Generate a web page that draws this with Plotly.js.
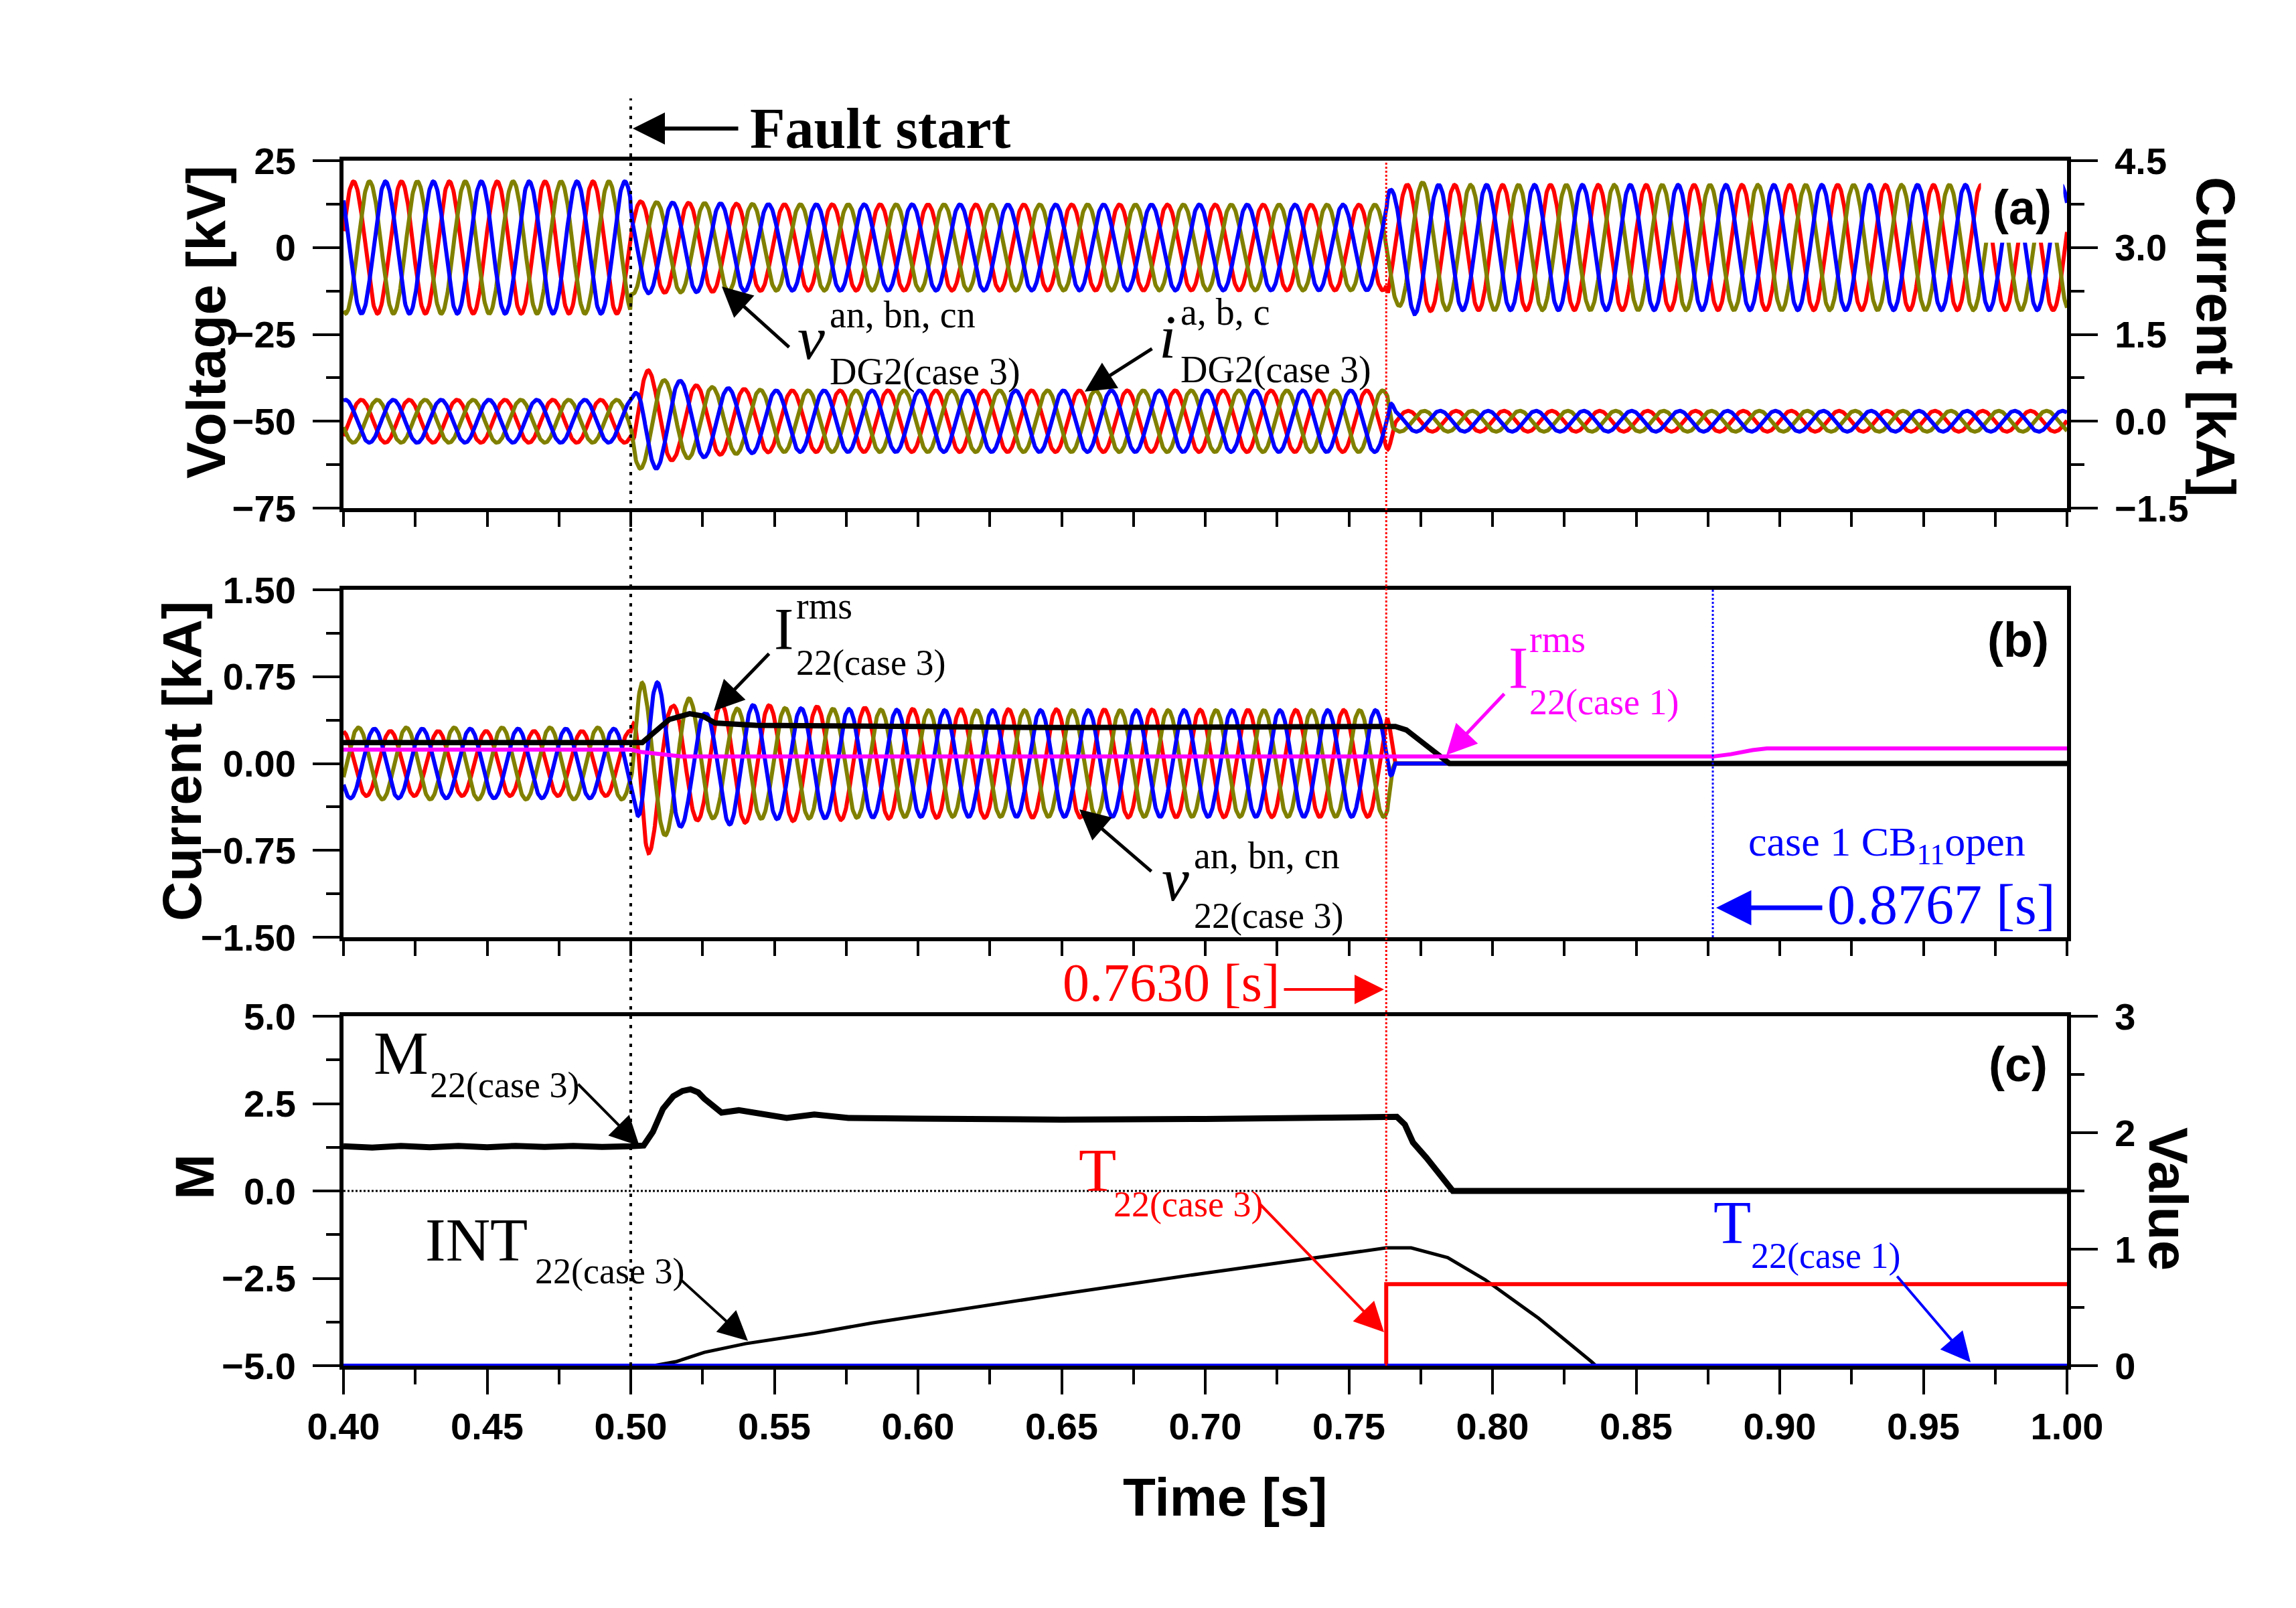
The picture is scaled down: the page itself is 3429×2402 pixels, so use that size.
<!DOCTYPE html>
<html><head><meta charset="utf-8">
<script src="https://cdn.plot.ly/plotly-3.0.1.min.js"></script>
<style>html,body{margin:0;padding:0;background:#fff;}#chart{width:3429px;height:2402px;}</style>
</head><body><div id="chart"></div>
<script>
// ---------------- data ----------------
const tStart = 0.40, tEnd = 1.00, tStep = 0.0002;
const freqHz = 60;                       // cycle spacing read from the waves
const phaseLagS = [0, 1/180, 2/180];     // phases a, b, c (120 deg apart)
const phaseColors = ['#FF0000', '#808000', '#0000FF'];

// (a) DG2 phase voltages [kV]: envelope knots
const vDgPeakTime = 0.4035;
const vDgEnvT  = [0.40, 0.49995, 0.50005, 0.51, 0.55, 0.763, 0.7636, 0.767, 0.7727, 0.78, 1.00];
const vDgEnvKV = [19.0, 19.0,    13.4,    13.0, 12.4, 12.3,  16.6,   16.6,  19.2,   18.0, 18.0];

// (a) DG2 phase currents [kA]: envelope knots per phase
const iDgPeakTime = 0.4062;
const iDgEnvT = [
  [0.40, 0.50, 0.5012, 0.5061, 0.515, 0.53, 0.55, 0.7634, 0.766, 1.00],
  [0.40, 0.50, 0.5012, 0.5033, 0.5115, 0.52, 0.53, 0.55, 0.7634, 0.766, 1.00],
  [0.40, 0.50, 0.5048, 0.5088, 0.517, 0.53, 0.55, 0.7634, 0.766, 1.00]
];
const iDgEnvKA = [
  [0.37, 0.37, 0.88, 0.88, 0.66, 0.58, 0.53, 0.53, 0.18, 0.18],
  [0.37, 0.37, 0.82, 0.82, 0.71, 0.64, 0.58, 0.53, 0.53, 0.18, 0.18],
  [0.37, 0.37, 0.82, 0.82, 0.70, 0.58, 0.53, 0.53, 0.18, 0.18]
];
const iDgShiftT = [0.40, 0.7634, 0.766, 1.00];
const iDgShiftS = [0, 0, -0.0022, -0.0022];

// (b) bus-22 phase waves [kA]: envelope knots per phase
const w22PeakTime = 0.39965;
const w22EnvT = [
  [0.40, 0.50, 0.5035, 0.5062, 0.5143, 0.5232, 0.5308, 0.55, 0.60, 0.7634, 0.7660, 1.00],
  [0.40, 0.50, 0.5015, 0.5036, 0.5120, 0.5205, 0.5290, 0.55, 0.60, 0.7634, 0.7660, 1.00],
  [0.40, 0.50, 0.5013, 0.5052, 0.5094, 0.5183, 0.5259, 0.5348, 0.55, 0.60, 0.7634, 0.7660, 1.00]
];
const w22EnvKA = [
  [0.28, 0.28, 0.78, 0.78, 0.50, 0.49, 0.52, 0.50, 0.47, 0.46, 0, 0],
  [0.31, 0.31, 0.70, 0.70, 0.62, 0.56, 0.47, 0.48, 0.46, 0.46, 0, 0],
  [0.30, 0.30, 0.37, 0.70, 0.70, 0.53, 0.43, 0.53, 0.48, 0.46, 0.46, 0, 0]
];
const w22ShiftT = [0.40, 0.50, 0.505, 1.00];
const w22ShiftS = [0, 0, -0.00145, -0.00145];

// (b) RMS currents [kA]
const irms3T = [0.40, 0.504, 0.5134, 0.5205, 0.525, 0.5294, 0.5437, 0.579, 0.65, 0.7662, 0.770, 0.785, 1.00];
const irms3V = [0.18, 0.18,  0.38,   0.43,   0.41,  0.35,   0.33,   0.32,  0.31, 0.32,   0.29,  0.0,   0.0];
const irms1T = [0.40, 0.500, 0.5036, 0.5178, 0.8767, 0.8830, 0.8905, 0.8955, 1.00];
const irms1V = [0.12, 0.12,  0.10,   0.06,   0.06,   0.08,   0.116,  0.13,   0.13];

// (c) M and INT (left axis)
const mT = [0.40,0.41,0.42,0.43,0.44,0.45,0.46,0.47,0.48,0.49,0.50,0.5045,0.5077,0.5112,0.5148,0.5180,0.5208,0.5235,0.5256,0.5286,0.5316,0.5376,0.5459,0.5543,0.5639,0.5758,0.60,0.65,0.70,0.75,0.7667,0.7695,0.7723,0.777,0.7825,0.7862,1.00];
const mV = [1.28,1.24,1.29,1.25,1.29,1.25,1.29,1.26,1.29,1.26,1.28,1.30,1.69,2.35,2.71,2.86,2.91,2.82,2.64,2.42,2.24,2.31,2.20,2.09,2.19,2.09,2.07,2.04,2.06,2.08,2.12,1.90,1.39,0.95,0.37,0.0,0.0];
const intT = [0.40,0.508,0.516,0.5256,0.540,0.5639,0.584,0.65,0.70,0.763,0.7717,0.7844,0.7974,0.816,0.8345,0.836,1.00];
const intV = [-5,-5,-4.88,-4.62,-4.37,-4.07,-3.78,-2.95,-2.35,-1.63,-1.63,-1.91,-2.54,-3.64,-4.89,-5,-5];
// (c) trip signals (right axis)
const tCase3T = [0.40, 0.763, 0.763, 1.00];
const tCase3V = [0, 0, 0.70, 0.70];
const tCase1T = [0.40, 1.00];
const tCase1V = [0, 0];

// event times
const faultTime = 0.50, clear3Time = 0.763, clear1Time = 0.8767;

// ---------------- helpers ----------------
function interp(ts, vs, t) {
  if (t <= ts[0]) return vs[0];
  for (let i = 1; i < ts.length; i++) {
    if (t <= ts[i]) {
      const d = ts[i] - ts[i-1];
      if (d <= 0) return vs[i];
      return vs[i-1] + (vs[i] - vs[i-1]) * (t - ts[i-1]) / d;
    }
  }
  return vs[vs.length - 1];
}
function wave(peak, envT, envA, shT, shS) {
  const x = [], y = [];
  const n = Math.round((tEnd - tStart) / tStep);
  for (let k = 0; k <= n; k++) {
    const t = tStart + k * tStep;
    const A = interp(envT, envA, t);
    const s = shT ? interp(shT, shS, t) : 0;
    x.push(t);
    y.push(A * Math.cos(2 * Math.PI * freqHz * (t - peak - s)));
  }
  return {x, y};
}

const traces = [];
for (let p = 0; p < 3; p++) {
  const w = wave(vDgPeakTime + phaseLagS[p], vDgEnvT, vDgEnvKV);
  traces.push({x: w.x, y: w.y, xaxis: 'x', yaxis: 'y', mode: 'lines', line: {color: phaseColors[p], width: 6}});
}
for (let p = 0; p < 3; p++) {
  const w = wave(iDgPeakTime + phaseLagS[p], iDgEnvT[p], iDgEnvKA[p], iDgShiftT, iDgShiftS);
  traces.push({x: w.x, y: w.y, xaxis: 'x', yaxis: 'y2', mode: 'lines', line: {color: phaseColors[p], width: 6}});
}
for (let p = 0; p < 3; p++) {
  const w = wave(w22PeakTime + phaseLagS[p], w22EnvT[p], w22EnvKA[p], w22ShiftT, w22ShiftS);
  traces.push({x: w.x, y: w.y, xaxis: 'x2', yaxis: 'y3', mode: 'lines', line: {color: phaseColors[p], width: 6}});
}
traces.push({x: irms3T, y: irms3V, xaxis: 'x2', yaxis: 'y3', mode: 'lines', line: {color: '#000', width: 8}});
traces.push({x: irms1T, y: irms1V, xaxis: 'x2', yaxis: 'y3', mode: 'lines', line: {color: '#FF00FF', width: 6}});
traces.push({x: mT, y: mV, xaxis: 'x3', yaxis: 'y4', mode: 'lines', line: {color: '#000', width: 9}});
traces.push({x: intT, y: intV, xaxis: 'x3', yaxis: 'y4', mode: 'lines', line: {color: '#000', width: 5}});
traces.push({x: tCase3T, y: tCase3V, xaxis: 'x3', yaxis: 'y5', mode: 'lines', line: {color: '#FF0000', width: 6}});
traces.push({x: tCase1T, y: tCase1V, xaxis: 'x3', yaxis: 'y5', mode: 'lines', line: {color: '#0000FF', width: 6}});

// ---------------- layout ----------------
const W = 3429, H = 2402, L = 513, R = 3087, TOP = 240, BOT = 2040;
const px = X => (X - L) / (R - L);
const py = Y => (BOT - Y) / (BOT - TOP);

const SANS = 'Liberation Sans, Arial, sans-serif';
const SERIF = 'Liberation Serif, Times New Roman, serif';

const yTickFont = {family: SANS, size: 56, color: '#000', weight: 'bold'};
const base = {showline: true, linecolor: '#000', linewidth: 6, zeroline: false, showgrid: false,
  ticks: 'outside', tickcolor: '#000', tickwidth: 4};

function xAx(anchor, labels) {
  const a = Object.assign({}, base, {domain: [0, 1], anchor: anchor, range: [0.4, 1.0], mirror: true, tick0: 0.4});
  if (labels) {
    Object.assign(a, {dtick: 0.05, ticklen: 37, tickformat: '.2f', showticklabels: true,
      tickfont: {family: SANS, size: 56, color: '#000', weight: 'bold'}, ticklabelstandoff: 0,
      minor: {dtick: 0.025, ticklen: 22, tickwidth: 4, tickcolor: '#000', ticks: 'outside'}});
  } else {
    Object.assign(a, {dtick: 0.025, ticklen: 22, showticklabels: false});
  }
  return a;
}
function yAx(o) {
  return Object.assign({}, base, {ticklen: 40, tickfont: yTickFont, ticklabelstandoff: 14,
    minor: {dtick: o.minor, ticklen: 20, tickwidth: 4, tickcolor: '#000', ticks: 'outside'}}, o.extra);
}

const annotations = [];
function txt(X, Y, text, font, opt) {
  annotations.push(Object.assign({xref: 'paper', yref: 'paper', x: px(X), y: py(Y), text: text,
    showarrow: false, xanchor: 'left', yanchor: 'middle', font: font, borderpad: 0}, opt || {}));
}
function arrow(hx, hy, tx, ty, color, width, size) {
  annotations.push({xref: 'paper', yref: 'paper', x: px(hx), y: py(hy), ax: tx - hx, ay: ty - hy,
    text: '', showarrow: true, arrowhead: 2, arrowsize: size, arrowwidth: width, arrowcolor: color, standoff: 0});
}
const sf = (size, color) => ({family: SERIF, size: size, color: color || '#000'});

// Fault start
txt(1315, 192, '<b>Fault start</b>', sf(86), {xanchor: 'center'});
arrow(945, 192, 1104, 192, '#000', 6, 1.6);
// (a) labels
txt(1190, 505, '<i>v</i>', sf(92));
txt(1238, 470, 'an, bn, cn', sf(56));
txt(1238, 555, 'DG2(case 3)', sf(56));
arrow(1078, 428, 1180, 520, '#000', 5, 1.8);
txt(1730, 503, '<i>i</i>', sf(92));
txt(1762, 466, 'a, b, c', sf(56));
txt(1762, 552, 'DG2(case 3)', sf(56));
arrow(1620, 585, 1722, 520, '#000', 5, 1.8);
// (b) labels
txt(1155, 940, 'I', sf(88));
txt(1188, 905, 'rms', sf(56));
txt(1188, 990, '22(case 3)', sf(54));
arrow(1066, 1062, 1150, 975, '#000', 5, 1.8);
txt(1734, 1314, '<i>v</i>', sf(92));
txt(1782, 1278, 'an, bn, cn', sf(56));
txt(1782, 1368, '22(case 3)', sf(54));
arrow(1612, 1209, 1721, 1303, '#000', 5, 1.8);
txt(2252, 997, 'I', sf(88, '#FF00FF'));
txt(2283, 955, 'rms', sf(56, '#FF00FF'));
txt(2283, 1049, '22(case 1)', sf(54, '#FF00FF'));
arrow(2160, 1128, 2248, 1035, '#FF00FF', 5, 1.8);
txt(2610, 1261, 'case 1 CB<sub>11</sub>open', sf(62, '#0000FF'));
txt(2728, 1351, '0.8767 [s]', sf(84, '#0000FF'));
arrow(2563, 1356, 2723, 1356, '#0000FF', 7, 1.5);
txt(1586, 1468, '0.7630 [s]', sf(80, '#FF0000'));
arrow(2067, 1478, 1916, 1478, '#FF0000', 4, 2.2);
// (c) labels
txt(557, 1573, 'M', sf(92));
txt(641, 1621, '22(case 3)', sf(54));
arrow(955, 1712, 862, 1618, '#000', 4, 2.2);
txt(634, 1852, 'INT', sf(92));
txt(798, 1899, '22(case 3)', sf(54));
arrow(1117, 2003, 1015, 1910, '#000', 4, 2.2);
txt(1610, 1748, 'T', sf(92, '#FF0000'));
txt(1662, 1799, '22(case 3)', sf(54, '#FF0000'));
arrow(2067, 1990, 1881, 1798, '#FF0000', 4, 2.2);
txt(2558, 1826, 'T', sf(92, '#0000FF'));
txt(2614, 1876, '22(case 1)', sf(54, '#0000FF'));
arrow(2943, 2035, 2832, 1905, '#0000FF', 4, 2.2);
// panel tags
const tagFont = {family: SANS, size: 72, color: '#000'};
txt(3020, 310, '<b>(a)</b>', tagFont, {xanchor: 'center', bgcolor: '#ffffff', width: 122, height: 104});
txt(3014, 956, '<b>(b)</b>', tagFont, {xanchor: 'center'});
txt(3014, 1590, '<b>(c)</b>', tagFont, {xanchor: 'center'});
// axis titles
const titleFont = {family: SANS, size: 82, color: '#000'};
txt(308, 481, '<b>Voltage [kV]</b>', titleFont, {xanchor: 'center', textangle: -90});
txt(271, 1137, '<b>Current [kA]</b>', titleFont, {xanchor: 'center', textangle: -90});
txt(291, 1758, '<b>M</b>', titleFont, {xanchor: 'center', textangle: -90});
txt(3309, 503, '<b>Current [kA]</b>', titleFont, {xanchor: 'center', textangle: 90});
txt(3239, 1791, '<b>Value</b>', titleFont, {xanchor: 'center', textangle: 90});
txt(1829, 2236, '<b>Time [s]</b>', {family: SANS, size: 80, color: '#000'}, {xanchor: 'center'});

const shapes = [
  {type: 'line', xref: 'x', yref: 'paper', x0: faultTime, x1: faultTime, y0: 0, y1: py(147),
   line: {color: '#000', width: 4, dash: '5px,9px'}},
  {type: 'line', xref: 'x', yref: 'paper', x0: clear3Time, x1: clear3Time, y0: 0, y1: 1,
   line: {color: '#FF0000', width: 3, dash: '3px,3px'}},
  {type: 'line', xref: 'x', yref: 'paper', x0: clear1Time, x1: clear1Time, y0: py(1400), y1: py(881),
   line: {color: '#0000FF', width: 3, dash: '3px,3px'}},
  {type: 'line', xref: 'paper', yref: 'y4', x0: 0, x1: 1, y0: 0, y1: 0, layer: 'below',
   line: {color: '#000', width: 3, dash: '3px,3px'}}
];

const layout = {
  width: W, height: H, paper_bgcolor: '#fff', plot_bgcolor: 'rgba(0,0,0,0)',
  margin: {l: L, r: W - R, t: TOP, b: H - BOT, pad: 0},
  showlegend: false, hovermode: false,
  xaxis: xAx('y', false),
  xaxis2: xAx('y3', false),
  xaxis3: xAx('y4', true),
  yaxis: yAx({minor: 12.5, extra: {domain: [py(759), 1], anchor: 'x', range: [-75, 25], tick0: 0, dtick: 25}}),
  yaxis2: yAx({minor: 0.75, extra: {overlaying: 'y', side: 'right', anchor: 'x', range: [-1.5, 4.5], tick0: 0, dtick: 1.5, tickformat: '.1f'}}),
  yaxis3: yAx({minor: 0.375, extra: {domain: [py(1400), py(881)], anchor: 'x2', range: [-1.5, 1.5], tick0: 0, dtick: 0.75, tickformat: '.2f', mirror: true}}),
  yaxis4: yAx({minor: 1.25, extra: {domain: [0, py(1518)], anchor: 'x3', range: [-5, 5], tick0: 0, dtick: 2.5, tickformat: '.1f'}}),
  yaxis5: yAx({minor: 0.5, extra: {overlaying: 'y4', side: 'right', anchor: 'x3', range: [0, 3], tick0: 0, dtick: 1}}),
  annotations: annotations,
  shapes: shapes
};

Plotly.newPlot('chart', traces, layout, {staticPlot: true, displayModeBar: false});
</script></body></html>
